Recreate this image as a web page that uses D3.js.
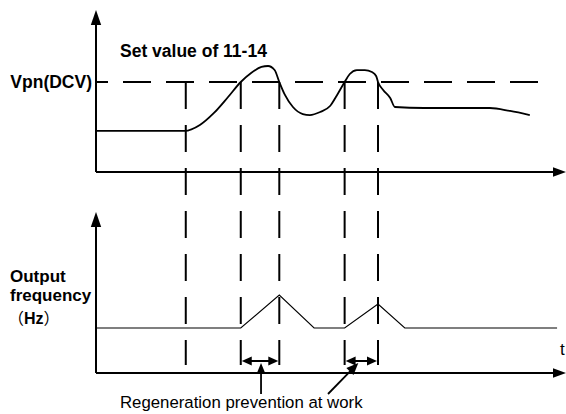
<!DOCTYPE html>
<html>
<head>
<meta charset="utf-8">
<script src="https://cdn.jsdelivr.net/npm/d3@7"></script>
<style>
  body { margin: 0; background: #fff; }
  svg { display: block; }
  text { font-family: "Liberation Sans", Arial, "Noto Sans CJK SC", sans-serif; fill: #000; }
  tspan.cjk { font-family: "Noto Sans CJK SC", sans-serif; font-weight: normal; }
</style>
</head>
<body>
<svg id="chart" width="566" height="414"></svg>
<script>
// Moments when the bus voltage crosses the regeneration threshold (time units 0..100)
const eventTimes = [19.1, 30.8, 39.0, 52.9, 60.0];
// Intervals during which regeneration prevention acts
const regenStart = [30.8, 52.9];
const regenEnd = [39.0, 60.0];
// Threshold voltage (set value of 11-14)
const thresholdVoltage = 100;

// DC bus voltage trace
const busTime = [0, 18.9, 22.1, 25.1, 28.1, 30.8, 33.0, 35.2, 36.6, 38.0, 39.0, 40.2, 41.9, 44.0, 45.5, 47.7, 49.8, 51.3, 52.9, 54.0, 55.5, 57.2, 58.7, 59.6, 60.0, 61.1, 62.6, 63.6, 69.8, 83.8, 88.1, 92.3];
const busVoltage = [45.6, 45.6, 52.2, 65.6, 83.3, 100, 110.0, 116.7, 117.8, 113.3, 100, 85.6, 72.2, 64.4, 63.3, 66.7, 73.3, 85.6, 100, 108.9, 113.3, 113.3, 111.1, 106.7, 100, 91.1, 82.2, 72.2, 71.1, 71.1, 67.8, 63.3];

// Output frequency trace
const freqTime = [0, 30.8, 39.0, 46.4, 52.9, 60.0, 65.7, 98.1];
const freqValue = [45, 45, 78, 45, 45, 69, 45, 45];

// Axis labels
const topAxisLabel = "Vpn(DCV)";
const thresholdLabel = "Set value of 11-14";
const bottomAxisLabel = ["Output", "frequency"];
const unitLabel = ["（", "Hz", "）"];
const timeLabel = "t";
const noteLabel = "Regeneration prevention at work";

const svg = d3.select("#chart");

const x = d3.scaleLinear().domain([0, 100]).range([96, 566]);
const yTop = d3.scaleLinear().domain([0, 180]).range([172, 10]);
const yBot = d3.scaleLinear().domain([0, 161]).range([373, 212]);

// filled triangular arrow head with tip at (tx,ty) pointing along angle
function arrowHead(tx, ty, angle, len, half) {
  const c = Math.cos(angle), s = Math.sin(angle);
  const bx = tx - c * len, by = ty - s * len;
  const p = d3.path();
  p.moveTo(tx, ty);
  p.lineTo(bx - s * half, by + c * half);
  p.lineTo(bx + s * half, by - c * half);
  p.closePath();
  return p.toString();
}

const g = svg.append("g");

// ---- axes ----
function drawAxes(yScale, yMax) {
  const x0 = x(0), y0 = yScale(0), yT = yScale(yMax);
  g.append("line").attr("x1", x0).attr("y1", y0).attr("x2", x0).attr("y2", yT + 10)
    .attr("stroke", "#000").attr("stroke-width", 2);
  g.append("path").attr("d", arrowHead(x0, yT, -Math.PI / 2, 15, 5.2)).attr("fill", "#000");
  g.append("line").attr("x1", x0).attr("y1", y0).attr("x2", x(100) - 10).attr("y2", y0)
    .attr("stroke", "#000").attr("stroke-width", 2);
  g.append("path").attr("d", arrowHead(x(100), y0, 0, 13, 4.8)).attr("fill", "#000");
}
drawAxes(yTop, 180);
drawAxes(yBot, 161);

// ---- threshold dashed line ----
g.append("line")
  .attr("x1", x(0)).attr("x2", x(96.8))
  .attr("y1", yTop(thresholdVoltage)).attr("y2", yTop(thresholdVoltage))
  .attr("stroke", "#000").attr("stroke-width", 2)
  .attr("stroke-dasharray", "28,15").attr("stroke-dashoffset", 16);

// ---- vertical event markers spanning both panels ----
g.selectAll("line.event").data(eventTimes).join("line")
  .attr("class", "event")
  .attr("x1", d => x(d)).attr("x2", d => x(d))
  .attr("y1", yTop(thresholdVoltage)).attr("y2", yBot(8))
  .attr("stroke", "#000").attr("stroke-width", 2)
  .attr("stroke-dasharray", "27,16");

// ---- bus voltage curve ----
const busLine = d3.line().x(d => x(d[0])).y(d => yTop(d[1])).curve(d3.curveMonotoneX);
g.append("path")
  .attr("d", busLine(d3.zip(busTime, busVoltage)))
  .attr("fill", "none").attr("stroke", "#000").attr("stroke-width", 1.8);

// ---- output frequency trace ----
const freqLine = d3.line().x(d => x(d[0])).y(d => yBot(d[1]));
g.append("path")
  .attr("d", freqLine(d3.zip(freqTime, freqValue)))
  .attr("fill", "none").attr("stroke", "#000").attr("stroke-width", 1.1);

// ---- double-headed interval arrows ----
const yArrow = yBot(12);
regenStart.forEach((s, i) => {
  const a = x(s), b = x(regenEnd[i]);
  g.append("line").attr("x1", a + 6).attr("x2", b - 6).attr("y1", yArrow).attr("y2", yArrow)
    .attr("stroke", "#000").attr("stroke-width", 2);
  g.append("path").attr("d", arrowHead(a + 1, yArrow, Math.PI, 10, 4.5)).attr("fill", "#000");
  g.append("path").attr("d", arrowHead(b - 1, yArrow, 0, 10, 4.5)).attr("fill", "#000");
});

// ---- pointers from the note to the intervals ----
const noteY = 394;
const m1 = (x(regenStart[0]) + x(regenEnd[0])) / 2 + 1;
g.append("line").attr("x1", m1).attr("y1", noteY).attr("x2", m1).attr("y2", yArrow + 10)
  .attr("stroke", "#000").attr("stroke-width", 1.8);
g.append("path").attr("d", arrowHead(m1, yArrow + 2, -Math.PI / 2, 11, 4.5)).attr("fill", "#000");

const m2x = (x(regenStart[1]) + x(regenEnd[1])) / 2 - 3, m2y = yArrow + 2;
const tailX = 328;
const ang = Math.atan2(m2y - noteY, m2x - tailX);
g.append("line").attr("x1", tailX).attr("y1", noteY)
  .attr("x2", m2x - Math.cos(ang) * 9).attr("y2", m2y - Math.sin(ang) * 9)
  .attr("stroke", "#000").attr("stroke-width", 1.8);
g.append("path").attr("d", arrowHead(m2x, m2y, ang, 12, 5)).attr("fill", "#000");

// ---- labels ----
g.append("text").attr("x", x(0) - 4).attr("y", yTop(thresholdVoltage) + 6)
  .attr("text-anchor", "end").attr("font-weight", "bold").attr("font-size", 17.5)
  .text(topAxisLabel);
g.append("text").attr("x", 120).attr("y", 57)
  .attr("font-weight", "bold").attr("font-size", 17.5)
  .text(thresholdLabel);
const bl = [282, 301];
bottomAxisLabel.forEach((t, i) => {
  g.append("text").attr("x", 10).attr("y", bl[i])
    .attr("font-weight", "bold").attr("font-size", 17).text(t);
});
const unit = g.append("text").attr("x", 8).attr("y", 324)
  .attr("font-weight", "bold").attr("font-size", 16);
unitLabel.forEach((t, i) => {
  unit.append("tspan").attr("class", i === 1 ? null : "cjk").text(t);
});
g.append("text").attr("x", 560).attr("y", 355).attr("font-size", 17).text(timeLabel);
g.append("text").attr("x", 120).attr("y", 408).attr("font-size", 16.8).text(noteLabel);
</script>
</body>
</html>
